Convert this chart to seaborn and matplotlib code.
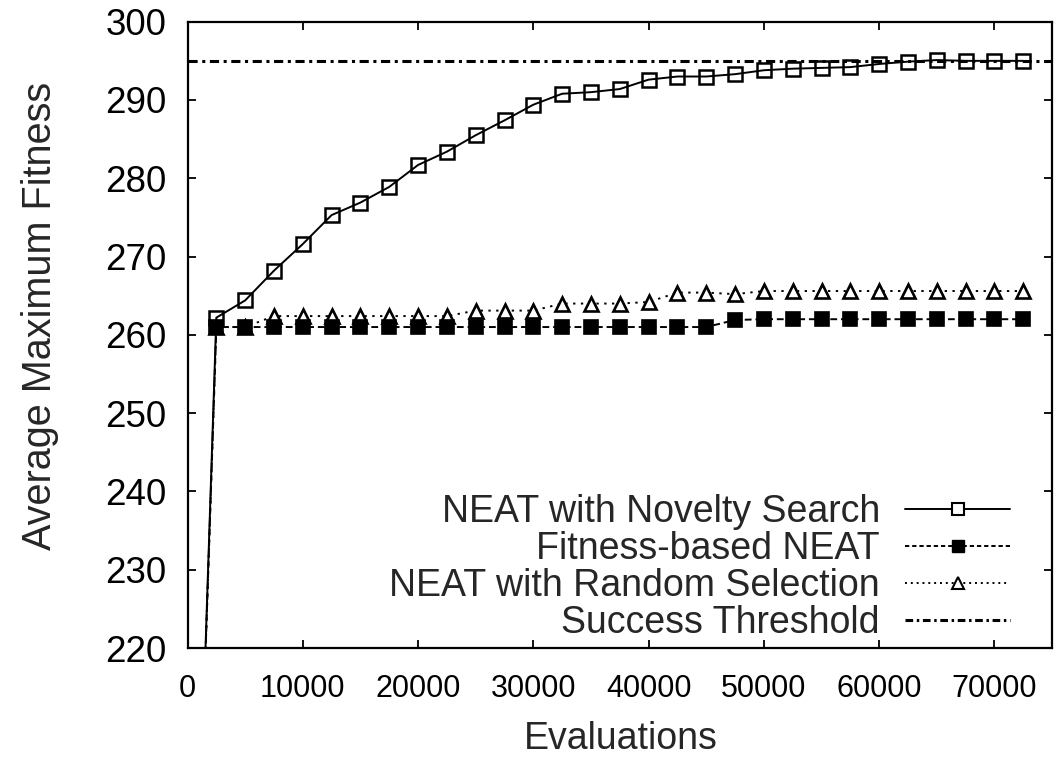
import matplotlib
matplotlib.use("Agg")
import matplotlib.pyplot as plt
import numpy as np
import pandas as pd
import seaborn as sns
from matplotlib.lines import Line2D

evaluations = [0, 2500, 5000, 7500, 10000, 12500, 15000, 17500, 20000, 22500,
               25000, 27500, 30000, 32500, 35000, 37500, 40000, 42500, 45000, 47500,
               50000, 52500, 55000, 57500, 60000, 62500, 65000, 67500, 70000, 72500]

novelty = [150.0, 262.2, 264.4, 268.2, 271.6, 275.3, 276.9, 278.9, 281.7, 283.4,
           285.5, 287.4, 289.4, 290.8, 291.0, 291.4, 292.6, 293.0, 293.0, 293.3,
           293.8, 294.0, 294.1, 294.2, 294.6, 294.9, 295.1, 295.0, 295.0, 295.0]

fitness = [150.0, 261.0, 261.0, 261.0, 261.0, 261.0, 261.0, 261.0, 261.0, 261.0,
           261.0, 261.0, 261.0, 261.0, 261.0, 261.0, 261.0, 261.0, 261.0, 261.9,
           262.0, 262.0, 262.0, 262.0, 262.0, 262.0, 262.0, 262.0, 262.0, 262.0]

random_sel = [150.0, 261.0, 261.0, 262.4, 262.4, 262.4, 262.4, 262.4, 262.4, 262.4,
              263.1, 263.1, 263.1, 264.0, 264.0, 264.0, 264.2, 265.4, 265.4, 265.2,
              265.6, 265.6, 265.6, 265.6, 265.6, 265.6, 265.6, 265.6, 265.6, 265.6]

threshold = 295.0

labels = ["NEAT with Novelty Search", "Fitness-based NEAT",
          "NEAT with Random Selection", "Success Threshold"]

x_ticks = [0, 10000, 20000, 30000, 40000, 50000, 60000, 70000]
y_ticks = [220, 230, 240, 250, 260, 270, 280, 290, 300]

sns.set_theme(style="ticks")
plt.rcParams["font.family"] = ["Liberation Sans", "DejaVu Sans"]

df = pd.DataFrame({"Evaluations": evaluations, "novelty": novelty,
                   "fitness": fitness, "random": random_sel})

fig = plt.figure(figsize=(10.6, 7.59), dpi=100)
ax = fig.add_axes([0.1769, 0.1462, 0.8156, 0.8252])

lw = 1.4
sns.lineplot(data=df, x="Evaluations", y="random", ax=ax, color="black",
             linewidth=lw, marker="^", markersize=10.5,
             markerfacecolor="white", markeredgecolor="black", markeredgewidth=1.9,
             zorder=3)
ax.lines[-1].set_dashes([1.2, 2.8])
sns.lineplot(data=df, x="Evaluations", y="fitness", ax=ax, color="black",
             linewidth=lw, marker="s", markersize=9.5,
             markerfacecolor="black", markeredgecolor="black", markeredgewidth=1.2,
             zorder=4)
ax.lines[-1].set_dashes([3.5, 2.0])
sns.lineplot(data=df, x="Evaluations", y="novelty", ax=ax, color="black",
             linewidth=lw, marker="s", markersize=10.5,
             markerfacecolor="none", markeredgecolor="black", markeredgewidth=1.8,
             zorder=5)
ax.axhline(threshold, color="black", linewidth=2.2, dashes=[3.0, 1.5, 1.0, 1.5],
           zorder=2)

ax.set_xlim(0, 75000)
ax.set_ylim(220, 300)
ax.set_xticks(x_ticks)
ax.set_yticks(y_ticks)
ax.tick_params(axis="both", direction="in", length=6, width=1.3,
               top=True, right=True, colors="black")
ax.tick_params(axis="x", labelsize=22, pad=19)
ax.tick_params(axis="y", labelsize=26.5, pad=15)
for s in ax.spines.values():
    s.set_linewidth(1.6)
    s.set_color("black")

ax.set_xlabel("Evaluations", fontsize=27)
ax.set_ylabel("Average Maximum Fitness", fontsize=28.5)
ax.xaxis.label.set_va("baseline")
ax.yaxis.label.set_va("baseline")
ax.xaxis.set_label_coords(0.5015, -0.162)
ax.yaxis.set_label_coords(-0.158, 0.530)

handles = [
    Line2D([], [], color="black", linewidth=lw, marker="s", markersize=8.5,
           markerfacecolor="white", markeredgewidth=1.5),
    Line2D([], [], color="black", linewidth=lw, dashes=[2.2, 1.5], marker="s",
           markersize=8.5, markerfacecolor="black"),
    Line2D([], [], color="black", linewidth=lw, dashes=[1.0, 2.0], marker="^",
           markersize=8.5, markerfacecolor="white", markeredgewidth=1.5),
    Line2D([], [], color="black", linewidth=2.2, dashes=[2.5, 1.2, 0.8, 1.2]),
]
leg = ax.legend(handles, labels, loc="lower right", bbox_to_anchor=(0.9515, 0.011),
                frameon=False, markerfirst=False, fontsize=27, handlelength=2.8,
                handletextpad=0.67, labelspacing=0.03, borderpad=0, borderaxespad=0)

fig.savefig("out.png", dpi=100, facecolor="white")
